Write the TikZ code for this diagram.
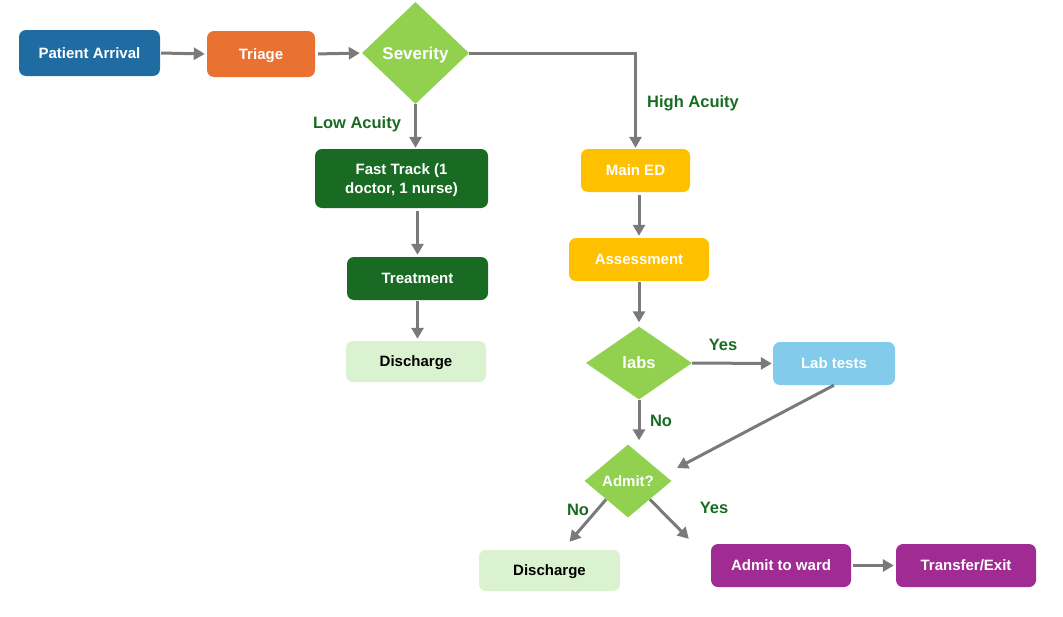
\documentclass[tikz,border=0pt]{standalone}
\usepackage{fontspec}
\setmainfont{Liberation Sans}
\usetikzlibrary{shapes.geometric,arrows.meta,calc}
\definecolor{cblue}{HTML}{1F6CA3}
\definecolor{corange}{HTML}{E97132}
\definecolor{clime}{HTML}{92D050}
\definecolor{cdgreen}{HTML}{196B24}
\definecolor{cgold}{HTML}{FFC000}
\definecolor{csky}{HTML}{83CBEB}
\definecolor{cpurple}{HTML}{A02B93}
\definecolor{cpale}{HTML}{DAF2D0}
\definecolor{cgray}{HTML}{7A7A7A}
\tikzset{
  box/.style={rectangle, rounded corners=7pt, inner sep=0pt, text=white, font=\fontsize{15}{18.5}\selectfont\bfseries, align=center, text height=10.7pt, text depth=0pt},
  dia/.style={diamond, inner sep=0pt, fill=clime, text=white, font=\fontsize{#1}{18}\selectfont\bfseries, text height=0.716*#1 pt, text depth=0pt},
  dia/.default=15,
  lbl/.style={text=cdgreen, font=\fontsize{16.5}{19}\selectfont\bfseries, inner sep=0pt},
  conn/.style={draw=cgray, line width=3pt, -{Triangle[length=11pt,width=12pt]}},
}
\begin{document}
\begin{tikzpicture}[x=1pt,y=-1pt]
\useasboundingbox (0,0) rectangle (1063,616);
% nodes
\node[box, fill=cblue, minimum width=141pt, minimum height=46pt] (pa) at (89.5,53) {Patient Arrival};
\node[box, fill=corange, minimum width=108pt, minimum height=46pt] (tri) at (261,54) {Triage};
\node[dia=17, minimum width=107pt, minimum height=102pt] (sev) at (415.5,53) {Severity};
\node[box, fill=cdgreen, minimum width=173pt, minimum height=59pt, text height=29.2pt] (ft) at (401.5,178.5) {Fast Track (1\\doctor, 1 nurse)};
\node[box, fill=cdgreen, minimum width=141pt, minimum height=43pt] (tr) at (417.5,278.5) {Treatment};
\node[box, fill=cpale, text=black, minimum width=140pt, minimum height=41pt] (dc1) at (416,361.5) {Discharge};
\node[box, fill=cgold, minimum width=109pt, minimum height=43pt] (med) at (635.5,170.5) {Main ED};
\node[box, fill=cgold, minimum width=140pt, minimum height=43pt] (asm) at (639,259.5) {Assessment};
\node[dia=16.5, minimum width=106pt, minimum height=73pt] (labs) at (639,363) {labs};
\node[box, fill=csky, minimum width=122pt, minimum height=43pt] (lab) at (834,363.5) {Lab tests};
\node[dia=15, minimum width=87pt, minimum height=73pt] (adm) at (628,481) {Admit?};
\node[box, fill=cpale, text=black, minimum width=141pt, minimum height=41pt] (dc2) at (549.5,570.5) {Discharge};
\node[box, fill=cpurple, minimum width=140pt, minimum height=43pt] (ward) at (781,565.5) {Admit to ward};
\node[box, fill=cpurple, minimum width=140pt, minimum height=43pt] (te) at (966,565.5) {Transfer/Exit};
% labels
\node[lbl] (llow) at (357,124) {Low Acuity};
\node[lbl, anchor=west] (lhigh) at (647,103) {High Acuity};
\node[lbl] (lyes1) at (723,345) {Yes};
\node[lbl] (lno1) at (661,421) {No};
\node[lbl] (lno2) at (578,510) {No};
\node[lbl] (lyes2) at (714,508) {Yes};
% connectors
\draw[conn, shorten <=1pt, shorten >=2pt] (pa.east) -- (tri.west);
\draw[conn, shorten <=3pt, shorten >=2pt] (tri.east) -- (sev.west);
\draw[conn, shorten >=1pt] (sev.east) -| (med.north);
\draw[conn, shorten >=1pt] (sev.south) -- (sev.south |- ft.north);
\draw[conn, shorten <=3pt, shorten >=2pt] (tr.north |- ft.south) -- (tr.north);
\draw[conn, shorten <=1pt, shorten >=2pt] (tr.south) -- (tr.south |- dc1.north);
\draw[conn, shorten <=3pt, shorten >=2pt] (asm.north |- med.south) -- (asm.north);
\draw[conn, shorten <=1pt, shorten >=4pt] (asm.south) -- (labs.north);
\draw[conn, shorten >=1pt] (labs.east) -- (lab.west);
\draw[conn, shorten >=4pt] (labs.south) -- (labs.south |- adm.north);
\draw[conn] (lab.south) -- ($(adm.center)+(49,-13)$);
\draw[conn] (adm.south west) -- ($(dc2.north)+(20,-8)$);
\draw[conn] (adm.south east) -- ($(ward.north west)+(-22,-5)$);
\draw[conn, shorten <=2pt, shorten >=2pt] (ward.east) -- (te.west);
\end{tikzpicture}
\end{document}
